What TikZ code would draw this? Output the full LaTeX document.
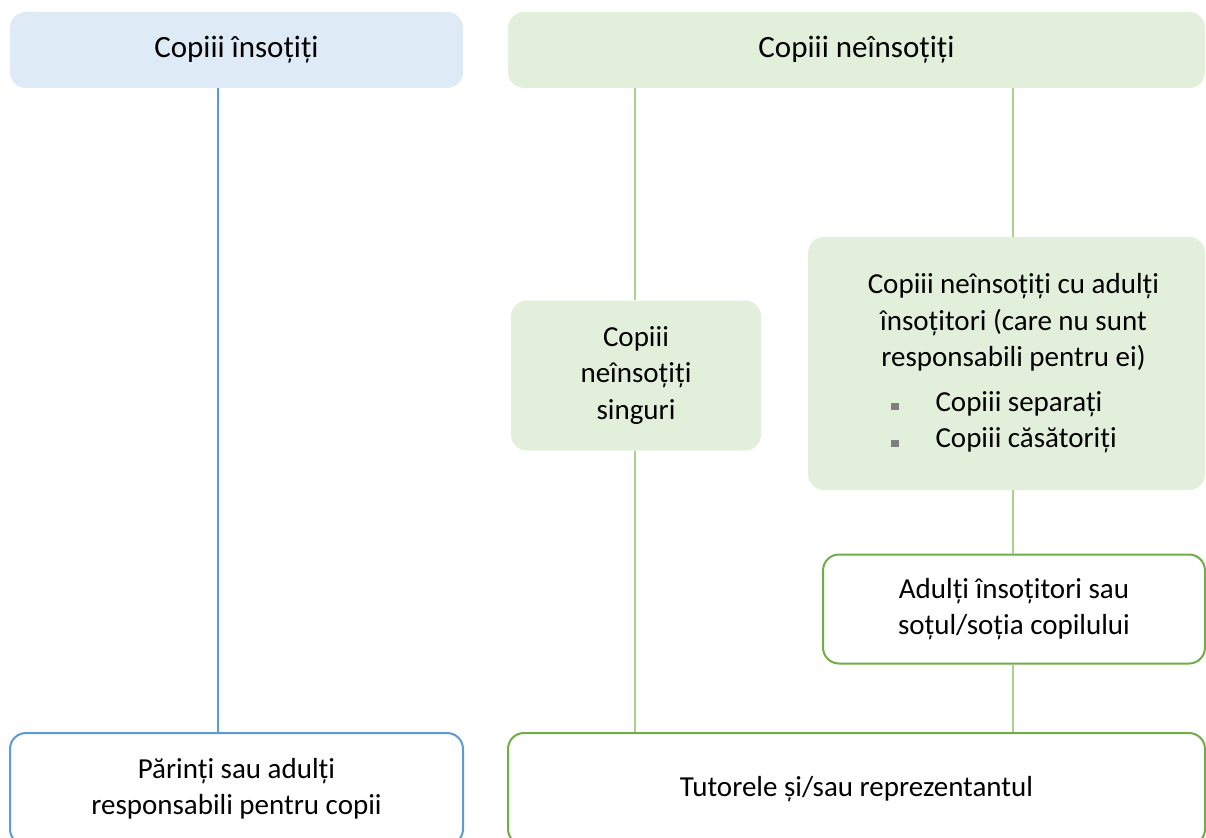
\documentclass[tikz,border=0pt]{standalone}
\usepackage{fontspec}
\setmainfont{Carlito}
\usetikzlibrary{positioning}
\definecolor{blueFill}{HTML}{DEEAF6}
\definecolor{greenFill}{HTML}{E2EFDA}
\definecolor{blueLine}{HTML}{5B9BD5}
\definecolor{greenLine}{HTML}{A9D18E}
\definecolor{greenBorder}{HTML}{70AD47}
\definecolor{bulletGrey}{HTML}{7F7F7F}
\tikzstyle{chart} = [x = 1pt, y = -1pt]
\tikzstyle{boxBase} = [rounded corners = 16pt, inner sep = 0pt, align = center, font = \fontsize{29}{36.5}\selectfont]
\tikzstyle{headBlue} = [boxBase, fill = blueFill, font = \fontsize{31}{36}\selectfont]
\tikzstyle{headGreen} = [boxBase, fill = greenFill, font = \fontsize{31}{36}\selectfont]
\tikzstyle{groupGreen} = [boxBase, fill = greenFill]
\tikzstyle{leafBlue} = [boxBase, draw = blueLine, line width = 2pt, fill = white]
\tikzstyle{leafGreen} = [boxBase, draw = greenBorder, line width = 2pt, fill = white]
\tikzstyle{linkBlue} = [draw = blueLine, line width = 2pt]
\tikzstyle{linkGreen} = [draw = greenLine, line width = 2pt]
\newcommand{\bulletSq}{\textcolor{bulletGrey}{\rule[1pt]{8pt}{7pt}}\hspace{37pt}}

\begin{document}
\begin{tikzpicture}[chart]
  \useasboundingbox (0,0) rectangle (1206,837);
  \clip (0,0) rectangle (1206,837);
  % column positions of the connectors
  \coordinate (colA) at (218,0);
  \coordinate (colB) at (635,0);
  \coordinate (colC) at (1013,0);
  % top level
  \node [headBlue, minimum width = 453pt, minimum height = 76pt] (accomp) at (236.5,50) {Copiii însoțiți};
  \node [headGreen, minimum width = 697pt, minimum height = 76pt] (unaccomp) at (856.5,50) {Copiii neînsoțiți};
  % middle level
  \node [groupGreen, minimum width = 250pt, minimum height = 150pt] (alone) at (636,375.5) {Copiii\\ neînsoțiți\\ singuri};
  \node [groupGreen, minimum width = 397pt, minimum height = 253pt] (withAdult) at (1006.5,363.5)
    {\hspace*{14pt}\parbox{370pt}{\centering Copiii neînsoțiți cu adulți\\ însoțitori (care nu sunt\\ responsabili pentru ei)\par\vspace{8pt}
     \raggedright\leftskip=62pt \bulletSq Copiii separați\\ \bulletSq Copiii căsătoriți\par}};
  \node [leafGreen, minimum width = 382pt, minimum height = 109pt] (spouse) at (1014,609) {Adulți însoțitori sau\\ soțul/soția copilului};
  % bottom level
  \node [leafBlue, minimum width = 453pt, minimum height = 112pt] (parents) at (236.5,789) {Părinți sau adulți\\ responsabili pentru copii};
  \node [leafGreen, minimum width = 697pt, minimum height = 112pt] (tutor) at (856.5,789) {Tutorele și/sau reprezentantul};
  % connectors
  \draw [linkBlue] (accomp.south -| colA) -- (parents.north -| colA);
  \draw [linkGreen] (unaccomp.south -| colB) -- (alone.north -| colB);
  \draw [linkGreen] (alone.south -| colB) -- (tutor.north -| colB);
  \draw [linkGreen] (unaccomp.south -| colC) -- (withAdult.north -| colC);
  \draw [linkGreen] (withAdult.south -| colC) -- (spouse.north -| colC);
  \draw [linkGreen] (spouse.south -| colC) -- (tutor.north -| colC);
\end{tikzpicture}
\end{document}
